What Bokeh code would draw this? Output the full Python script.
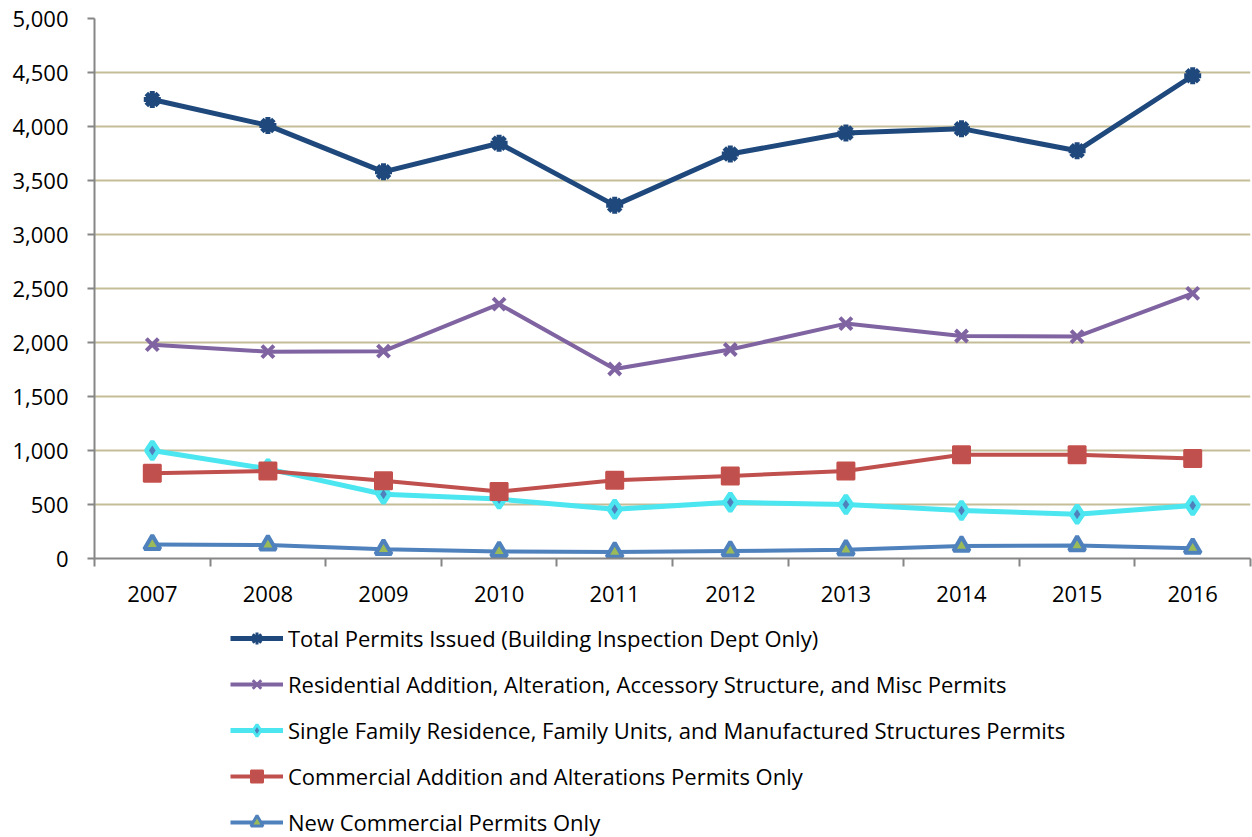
from bokeh.plotting import figure
from bokeh.layouts import column
from bokeh.models import (ColumnDataSource, Legend, LegendItem, FixedTicker,
                          NumeralTickFormatter, Range1d)
from bokeh.embed import file_html
from bokeh.resources import INLINE

years = [2007, 2008, 2009, 2010, 2011, 2012, 2013, 2014, 2015, 2016]
total_permits = [4250, 4010, 3580, 3845, 3270, 3745, 3940, 3980, 3775, 4470]
residential_addition = [1980, 1915, 1920, 2355, 1755, 1935, 2175, 2060, 2055, 2455]
single_family = [1000, 830, 595, 550, 455, 520, 500, 445, 410, 490]
commercial_addition = [790, 810, 720, 620, 725, 765, 810, 960, 960, 925]
new_commercial = [130, 125, 85, 65, 60, 70, 80, 115, 120, 95]

labels = [
    "Total Permits Issued (Building Inspection Dept Only)",
    "Residential Addition, Alteration, Accessory Structure, and Misc Permits",
    "Single Family Residence, Family Units, and Manufactured Structures Permits",
    "Commercial Addition and Alterations Permits Only",
    "New Commercial Permits Only",
]

FONT = "Open Sans"

# series styles: (column, line colour, line width, marker, size, marker line, fill, marker lw)
styles = [
    ("total", "#1F497D", 5, "asterisk", 17, "#1F497D", "#1F497D", 5),
    ("res", "#8064A2", 4, "x", 17, "#8064A2", "#8064A2", 4),
    ("sf", "#4BE6F0", 5, "diamond", 18, "#4BE6F0", "#4F81BD", 4.5),
    ("com", "#C0504D", 4, "square", 17, "#C4504D", "#C0504D", 2),
    ("new", "#4F81BD", 4, "triangle", 16, "#4F81BD", "#9BBB59", 4),
]

p = figure(width=1252, height=618, output_backend="svg",
           toolbar_location=None, x_range=Range1d(2006.5, 2016.5),
           y_range=Range1d(0, 5000), min_border_left=94, min_border_top=18,
           min_border_right=2, min_border_bottom=60)
p.outline_line_color = None
p.background_fill_color = "white"
p.border_fill_color = "white"

src = ColumnDataSource(dict(x=years, total=total_permits, res=residential_addition,
                            sf=single_family, com=commercial_addition, new=new_commercial))

for col, lc, lw, mk, sz, mlc, mfc, mlw in styles:
    p.line("x", col, source=src, line_color=lc, line_width=lw)
    p.scatter("x", col, source=src, marker=mk, size=sz,
              line_color=mlc, fill_color=mfc, line_width=mlw)

# axes
p.xaxis.ticker = FixedTicker(ticks=years,
                             minor_ticks=[y - 0.5 for y in years] + [years[-1] + 0.5])
p.xaxis.major_tick_out = 0
p.xaxis.major_tick_in = 0
p.xaxis.minor_tick_out = 8
p.xaxis.minor_tick_in = 0
p.xaxis.minor_tick_line_color = "#868686"
p.xaxis.minor_tick_line_width = 2
p.xaxis.axis_line_color = "#868686"
p.xaxis.axis_line_width = 2
p.xaxis.major_label_standoff = 19
p.xaxis.major_label_text_font = FONT
p.xaxis.major_label_text_font_size = "22px"
p.xaxis.major_label_text_color = "#000000"

p.yaxis.ticker = FixedTicker(ticks=list(range(0, 5001, 500)))
p.yaxis.formatter = NumeralTickFormatter(format="0,0")
p.yaxis.major_tick_out = 7
p.yaxis.major_tick_in = 0
p.yaxis.minor_tick_line_color = None
p.yaxis.major_tick_line_color = "#868686"
p.yaxis.major_tick_line_width = 2
p.yaxis.axis_line_color = "#868686"
p.yaxis.axis_line_width = 2
p.yaxis.major_label_standoff = 19
p.yaxis.major_label_text_font = FONT
p.yaxis.major_label_text_font_size = "22px"
p.yaxis.major_label_text_color = "#000000"

p.xgrid.grid_line_color = None
p.ygrid.grid_line_color = "#C4BD97"
p.ygrid.grid_line_width = 2

# legend panel: same series drawn into a strip whose ranges show none of the data,
# so only the legend entries are visible
lg = figure(width=1252, height=219, output_backend="svg", toolbar_location=None,
            x_range=Range1d(0, 1), y_range=Range1d(-2, -1),
            min_border_left=0, min_border_right=0, min_border_top=0,
            min_border_bottom=0, x_axis_location=None, y_axis_location=None)
lg.outline_line_color = None
lg.grid.visible = False
lg.background_fill_color = "white"
lg.border_fill_color = "white"
items = []
for lab, (col, lc, lw, mk, sz, mlc, mfc, mlw) in zip(labels, styles):
    r1 = lg.line("x", col, source=src, line_color=lc, line_width=lw)
    r2 = lg.scatter("x", col, source=src, marker=mk, size=sz,
                    line_color=mlc, fill_color=mfc, line_width=min(mlw, 3))
    items.append(LegendItem(label=lab, renderers=[r1, r2]))

legend = Legend(items=items, location=(136, 0), orientation="vertical",
                label_text_font=FONT, label_text_font_size="22px",
                label_text_color="#000000",
                glyph_width=53, glyph_height=30, label_height=30,
                label_standoff=5, spacing=16, padding=0, margin=0,
                border_line_color=None, background_fill_alpha=0)
lg.add_layout(legend, "center")

layout = column(p, lg, spacing=0)
open("out.html", "w").write(file_html(layout, INLINE))
